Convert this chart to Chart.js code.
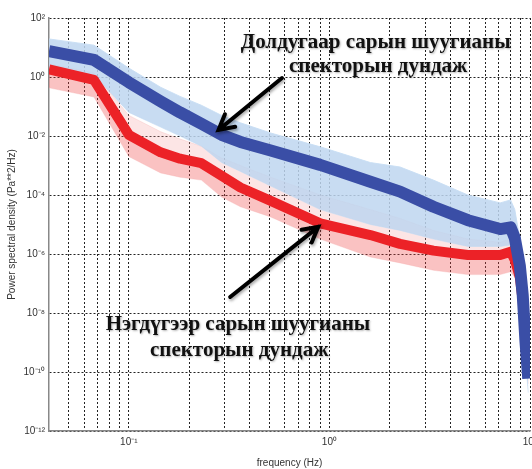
<!DOCTYPE html>
<html>
<head>
<meta charset="utf-8">
<script src="https://cdn.jsdelivr.net/npm/chart.js@4.4.1/dist/chart.umd.min.js"></script>
<style>
  html, body { margin: 0; padding: 0; background: #fff; }
  #wrap { width: 532px; height: 469px; }
</style>
</head>
<body>
<div id="wrap"><canvas id="chart" width="532" height="469"></canvas></div>
<script>
// frequency points (Hz) shared by every curve
const freq = [0.04, 0.067, 0.1, 0.144, 0.18, 0.23, 0.29, 0.36, 0.51, 0.9, 1.6, 2.25, 3.3, 4.9, 7.1, 8.0, 8.4, 8.9, 9.2, 9.5, 9.8];

// July (blue) - mean and spread of the individual spectra
const blueMean  = [7.6, 3.8, 0.66, 0.15, 0.063, 0.026, 0.011, 0.0063, 0.0032, 0.00105, 2.8e-4, 1.3e-4, 4e-5, 1.4e-5, 7e-6, 8e-6, 3.5e-6, 4e-7, 4e-8, 1e-9, 6e-11];
const blueUpper = [19.5, 12, 2.0, 0.45, 0.22, 0.11, 0.05, 0.028, 0.0126, 0.0043, 0.00126, 8.9e-4, 3.2e-4, 1e-4, 5.4e-5, 6.8e-5, 3.2e-5, 3.2e-6, 3.2e-7, 1e-8, 2.5e-10];
const blueLower = [2.2, 1.17, 0.063, 0.02, 0.01, 0.0045, 0.00126, 6.3e-4, 2e-4, 3.2e-5, 1e-5, 6.3e-6, 3.2e-6, 1.8e-6, 1.8e-6, 2e-6, 1e-6, 1e-7, 1e-8, 2.5e-10, 2e-11];

// January (red)
const redMean  = [1.8, 0.8, 0.011, 0.0028, 0.0017, 0.0012, 4.5e-4, 1.8e-4, 6.3e-5, 1.1e-5, 4.4e-6, 2.2e-6, 1.3e-6, 9.3e-7, 9.3e-7, 1.2e-6, 6.3e-7, 1.6e-7, 2.5e-8, 1e-9, 1e-10];
const redUpper = [2.8, 1.4, 0.05, 0.014, 0.0079, 0.0045, 0.0018, 0.001, 4e-4, 1e-4, 3.2e-5, 1.6e-5, 6.3e-6, 3.2e-6, 2.5e-6, 3.2e-6, 1.6e-6, 3.2e-7, 5e-8, 1.6e-9, 1.3e-10];
const redLower = [0.43, 0.21, 0.002, 5.6e-4, 4e-4, 3.2e-4, 8.5e-5, 4e-5, 1.8e-5, 3.2e-6, 7.9e-7, 5e-7, 2.8e-7, 2e-7, 2e-7, 2.5e-7, 1.6e-7, 4e-8, 8e-9, 5e-10, 4e-11];

// grid / tick positions
const xTicks = [0.05, 0.06, 0.07, 0.08, 0.09, 0.1, 0.2, 0.3, 0.4, 0.5, 0.6, 0.7, 0.8, 0.9, 1, 2, 3, 4, 5, 6, 7, 8, 9, 10];
const yTicks = [1e-12, 1e-10, 1e-8, 1e-6, 1e-4, 1e-2, 1, 1e2];

// annotation texts and anchors (data coordinates)
const notes = [
  { f: 1.7, p: 15, text: "Долдугаар сарын шуугианы" },
  { f: 1.75, p: 2.2, text: "спекторын дундаж" },
  { f: 0.35, p: 4e-9, text: "Нэгдүгээр сарын шуугианы" },
  { f: 0.355, p: 5.5e-10, text: "спекторын дундаж" }
];
const arrows = [
  { from: [0.58, 0.92], to: [0.28, 0.016] },
  { from: [0.32, 3.5e-8], to: [0.88, 8.3e-6] }
];

function pts(arr) {
  return freq.map(function (f, i) { return { x: f, y: arr[i] }; });
}

const sup = { "-": "⁻", "0": "⁰", "1": "¹", "2": "²", "3": "³", "4": "⁴", "5": "⁵", "6": "⁶", "7": "⁷", "8": "⁸", "9": "⁹" };
function powLabel(v) {
  const e = Math.log10(v);
  const r = Math.round(e);
  if (Math.abs(e - r) > 1e-6) return "";
  return "10" + String(r).split("").map(function (c) { return sup[c]; }).join("");
}

const notePlugin = {
  id: "notes",
  afterDatasetsDraw(chart) {
    const ctx = chart.ctx;
    const xs = chart.scales.x, ys = chart.scales.y;
    ctx.save();
    ctx.shadowColor = "rgba(0,0,0,0.35)";
    ctx.shadowBlur = 3;
    ctx.shadowOffsetX = 1;
    ctx.shadowOffsetY = 2;
    ctx.strokeStyle = "#000";
    ctx.lineWidth = 4;
    ctx.lineCap = "round";
    arrows.forEach(function (a) {
      const x0 = xs.getPixelForValue(a.from[0]), y0 = ys.getPixelForValue(a.from[1]);
      const x1 = xs.getPixelForValue(a.to[0]), y1 = ys.getPixelForValue(a.to[1]);
      const ang = Math.atan2(y1 - y0, x1 - x0);
      const h = 17;
      ctx.beginPath();
      ctx.moveTo(x0, y0);
      ctx.lineTo(x1, y1);
      ctx.moveTo(x1 - h * Math.cos(ang - 0.5), y1 - h * Math.sin(ang - 0.5));
      ctx.lineTo(x1, y1);
      ctx.lineTo(x1 - h * Math.cos(ang + 0.5), y1 - h * Math.sin(ang + 0.5));
      ctx.stroke();
    });
    ctx.shadowOffsetX = 1;
    ctx.shadowOffsetY = 1;
    ctx.shadowBlur = 2;
    ctx.shadowColor = "rgba(0,0,0,0.3)";
    ctx.font = "bold 21px 'Liberation Serif'";
    ctx.textAlign = "center";
    ctx.textBaseline = "middle";
    ctx.fillStyle = "#111";
    notes.forEach(function (n) {
      ctx.fillText(n.text, xs.getPixelForValue(n.f), ys.getPixelForValue(n.p));
    });
    ctx.restore();
  }
};

const gridStyle = { color: "#222", lineWidth: 1, drawTicks: false };
const borderStyle = { display: true, color: "#888", width: 1.5, dash: [2, 2] };

new Chart(document.getElementById("chart"), {
  type: "line",
  data: {
    datasets: [
      { data: pts(blueMean), borderColor: "#3a4ea6", borderWidth: 12, pointRadius: 0, fill: false, borderJoinStyle: "round" },
      { data: pts(redMean), borderColor: "#ec2227", borderWidth: 10, pointRadius: 0, fill: false, borderJoinStyle: "round" },
      { data: pts(blueUpper), borderColor: "rgba(200,222,244,0.9)", borderWidth: 1, pointRadius: 0, fill: 3, backgroundColor: "rgba(190,214,240,0.85)" },
      { data: pts(blueLower), borderColor: "rgba(200,222,244,0.6)", borderWidth: 1, pointRadius: 0, fill: false },
      { data: pts(redUpper), borderColor: "rgba(245,170,170,0.3)", borderWidth: 1, pointRadius: 0, fill: 1, backgroundColor: "rgba(245,150,150,0.25)" },
      { data: pts(redLower), borderColor: "rgba(245,170,170,0.3)", borderWidth: 1, pointRadius: 0, fill: 1, backgroundColor: "rgba(240,70,70,0.33)" }
    ]
  },
  options: {
    responsive: false,
    animation: false,
    parsing: false,
    layout: { padding: { top: 18, right: 2, left: 0, bottom: 0 } },
    plugins: {
      legend: { display: false },
      tooltip: { enabled: false }
    },
    scales: {
      x: {
        type: "logarithmic",
        min: 0.04,
        max: 10,
        afterBuildTicks: function (s) { s.ticks = xTicks.map(function (v) { return { value: v }; }); },
        afterFit: function (s) { s.height = 38; s.paddingRight = 0; s.paddingLeft = 0; },
        grid: gridStyle,
        border: borderStyle,
        ticks: {
          autoSkip: false,
          maxRotation: 0,
          padding: 5,
          color: "#333",
          font: { family: "'Liberation Sans'", size: 10 },
          callback: function (v) { return powLabel(v); }
        },
        title: {
          display: true,
          text: "frequency (Hz)",
          color: "#333",
          font: { family: "'Liberation Sans'", size: 10 },
          padding: { top: 4, bottom: 0 }
        }
      },
      y: {
        type: "logarithmic",
        min: 1e-12,
        max: 1e2,
        afterBuildTicks: function (s) { s.ticks = yTicks.map(function (v) { return { value: v }; }); },
        afterFit: function (s) { s.width = 49; },
        grid: gridStyle,
        border: borderStyle,
        ticks: {
          autoSkip: false,
          padding: 4,
          color: "#333",
          font: { family: "'Liberation Sans'", size: 10 },
          callback: function (v) { return powLabel(v); }
        },
        title: {
          display: true,
          text: "Power spectral density (Pa**2/Hz)",
          color: "#333",
          font: { family: "'Liberation Sans'", size: 10 },
          padding: { top: 6, bottom: 0 }
        }
      }
    }
  },
  plugins: [notePlugin]
});
</script>
</body>
</html>
